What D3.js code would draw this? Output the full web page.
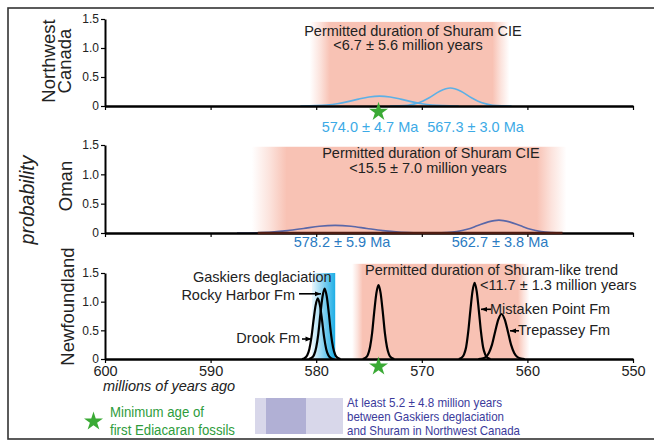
<!DOCTYPE html>
<html><head><meta charset="utf-8">
<script src="https://cdn.jsdelivr.net/npm/d3@7"></script>
<style>body{margin:0;background:#fff}svg{display:block;font-family:Arial,"Liberation Sans",Helvetica,sans-serif}</style>
</head><body><svg id="c" width="654" height="441"></svg>
<script>
// ---------- data ----------
const xTicks = [600, 590, 580, 570, 560, 550];
const yTicks = [0, 0.5, 1.0, 1.5];
const panelNames = [["Northwest", "Canada"], ["Oman"], ["Newfoundland"]];

// Northwest Canada ages (Ma) and probability curves
const nwLabels = ["574.0 ± 4.7 Ma", "567.3 ± 3.0 Ma"];
const nwCurveA = [[581.5,0],[580,0.007],[579,0.018],[578,0.04],[577,0.075],[576,0.119],[575,0.155],[574,0.17],[573,0.155],[572,0.119],[571,0.075],[570,0.04],[569,0.018],[568,0.007],[566.5,0]];
const nwCurveB = [[573,0],[572.3,0.003],[571.3,0.014],[570.3,0.054],[569.3,0.142],[568.3,0.255],[567.3,0.31],[566.3,0.255],[565.3,0.142],[564.3,0.054],[563.3,0.014],[562.3,0.003],[561.5,0]];
const nwBand = [580.6, 578.7, 563.3, 561.7];
const nwBandTop = 1.45;
const nwText = ["Permitted duration of Shuram CIE", "<6.7 ± 5.6 million years"];

// Oman
const omLabels = ["578.2 ± 5.9 Ma", "562.7 ± 3.8 Ma"];
const omCurveA = [[587.5,0],[585.7,0.005],[584.2,0.016],[582.7,0.041],[581.2,0.077],[579.7,0.115],[578.2,0.13],[576.7,0.115],[575.2,0.077],[573.7,0.041],[572.2,0.016],[570.7,0.005],[569,0]];
const omCurveB = [[568.7,0],[567.7,0.007],[566.7,0.024],[565.7,0.063],[564.7,0.127],[563.7,0.19],[562.7,0.22],[561.7,0.19],[560.7,0.127],[559.7,0.063],[558.7,0.024],[557.7,0.007],[556.7,0]];
const omBand = [586.1, 582.8, 559.1, 556.3];
const omBandTop = 1.47;
const omText = ["Permitted duration of Shuram CIE", "<15.5 ± 7.0 million years"];

// Newfoundland
const nfDrook = [[581.35,0],[581.1,0.015],[580.85,0.064],[580.65,0.17],[580.45,0.38],[580.25,0.68],[580.05,0.94],[579.85,1.06],[579.65,0.94],[579.45,0.68],[579.25,0.38],[579.05,0.17],[578.85,0.064],[578.6,0.015],[578.35,0]];
const nfRocky = [[580.7,0],[580.45,0.018],[580.2,0.074],[580.0,0.2],[579.8,0.44],[579.6,0.79],[579.4,1.09],[579.2,1.23],[579.0,1.09],[578.8,0.79],[578.6,0.44],[578.4,0.2],[578.2,0.074],[577.95,0.018],[577.7,0]];
const nfFossil = [[575.6,0],[575.35,0.019],[575.1,0.077],[574.9,0.21],[574.7,0.46],[574.5,0.83],[574.3,1.15],[574.1,1.29],[573.9,1.15],[573.7,0.83],[573.5,0.46],[573.3,0.21],[573.1,0.077],[572.85,0.019],[572.6,0]];
const nfMistaken = [[566.5,0],[566.25,0.02],[566.0,0.08],[565.8,0.21],[565.6,0.48],[565.4,0.85],[565.2,1.18],[565.0,1.33],[564.8,1.18],[564.6,0.85],[564.4,0.48],[564.2,0.21],[564.0,0.08],[563.75,0.02],[563.5,0]];
const nfTrepassey = [[564.65,0],[564.3,0.007],[563.95,0.035],[563.65,0.106],[563.35,0.25],[563.05,0.48],[562.75,0.69],[562.45,0.785],[562.15,0.69],[561.85,0.48],[561.55,0.25],[561.25,0.106],[560.95,0.035],[560.6,0.007],[560.25,0]];
const nfBand = [576.6, 575.6, 560.9, 559.8];
const nfBandTop = 1.66;
const gaskiersBand = [580.4, 578.2];
const gaskiersTop = 1.5;
const nfText = ["Permitted duration of Shuram-like trend", "<11.7 ± 1.3 million years"];
const nfNames = ["Gaskiers deglaciation", "Rocky Harbor Fm", "Drook Fm", "Mistaken Point Fm", "Trepassey Fm"];

const fossilAge = 574.1;
const xTitle = "millions of years ago";
const yTitle = "probability";
const legendStar = ["Minimum age of", "first Ediacaran fossils"];
const legendBox = ["At least 5.2 ± 4.8 million years", "between Gaskiers deglaciation", "and Shuram in Northwest Canada"];

// ---------- drawing ----------
const svg = d3.select("#c");
const defs = svg.append("defs");
const x = d3.scaleLinear().domain([600, 550]).range([105, 633]);
const yRanges = [[106, 19], [233, 145], [359, 273]];
const ys = yRanges.map(r => d3.scaleLinear().domain([0, 1.5]).range(r));
const FS = 14.5;

svg.append("rect").attr("x", 8).attr("y", 8).attr("width", 700).attr("height", 431)
  .attr("fill", "none").attr("stroke", "#333").attr("stroke-width", 1.6);

const PINK = "#f8c2b4";
function pinkBand(i, band, top) {
  const y = ys[i];
  const p = band.map(x);
  const w = p[3] - p[0];
  const g = defs.append("linearGradient").attr("id", "pink" + i)
    .attr("gradientUnits", "userSpaceOnUse").attr("x1", p[0]).attr("x2", p[3]).attr("y1", 0).attr("y2", 0);
  const o1 = (p[1] - p[0]) / w, o2 = (p[2] - p[0]) / w;
  [[0, 0], [o1 * 0.5, 0.45], [o1, 1], [o2, 1], [o2 + (1 - o2) * 0.5, 0.45], [1, 0]].forEach(([o, a]) =>
    g.append("stop").attr("offset", o).attr("stop-color", PINK).attr("stop-opacity", a));
  svg.append("rect").attr("x", p[0]).attr("width", w).attr("y", y(top)).attr("height", y(0) - y(top))
    .attr("fill", `url(#pink${i})`);
}
pinkBand(0, nwBand, nwBandTop);
pinkBand(1, omBand, omBandTop);
pinkBand(2, nfBand, nfBandTop);

// Gaskiers blue band
{
  const g = defs.append("linearGradient").attr("id", "blue").attr("x1", 0).attr("x2", 1).attr("y1", 0).attr("y2", 0);
  [[0, "#eaf7fd"], [0.45, "#8fd5f1"], [1, "#1daee6"]].forEach(([o, c]) => g.append("stop").attr("offset", o).attr("stop-color", c));
  const y = ys[2];
  svg.append("rect").attr("x", x(gaskiersBand[0])).attr("width", x(gaskiersBand[1]) - x(gaskiersBand[0]))
    .attr("y", y(gaskiersTop)).attr("height", y(0) - y(gaskiersTop)).attr("fill", "url(#blue)");
}

function curve(i, data, color, w) {
  const y = ys[i];
  const line = d3.line().x(d => x(d[0])).y(d => y(d[1])).curve(d3.curveMonotoneX);
  svg.append("path").datum(data).attr("d", line).attr("fill", "none").attr("stroke", color)
    .attr("stroke-width", w).attr("stroke-linejoin", "round");
}
curve(0, nwCurveA, "#5cb0e6", 1.6);
curve(0, nwCurveB, "#5cb0e6", 1.6);
curve(1, omCurveA, "#5a67a8", 1.6);
curve(1, omCurveB, "#5a67a8", 1.6);
[nfDrook, nfRocky, nfFossil, nfMistaken, nfTrepassey].forEach(c => curve(2, c, "#000", 2.2));

// axes
ys.forEach((y, i) => {
  const ya = svg.append("g").attr("transform", `translate(${x(600)},0)`)
    .call(d3.axisLeft(y).tickValues(yTicks).tickSize(4).tickPadding(2).tickSizeOuter(0)
      .tickFormat(d => d === 0 ? "0" : d3.format(".1f")(d)));
  ya.select(".domain").attr("stroke", "#000").attr("stroke-width", 2);
  ya.selectAll(".tick line").attr("stroke", "#000").attr("stroke-width", 1.2);
  ya.selectAll("text").attr("font-size", 12).attr("fill", "#222").attr("font-family", "Arial, 'Liberation Sans', sans-serif");

  const xa = svg.append("g").attr("transform", `translate(0,${y(0)})`)
    .call(d3.axisBottom(x).tickValues(xTicks).tickSize(4).tickSizeOuter(0).tickPadding(3)
      .tickFormat(i === 2 ? d3.format("d") : () => ""));
  xa.select(".domain").attr("stroke", "#000").attr("stroke-width", 2.6);
  xa.selectAll(".tick line").attr("stroke", "#000").attr("stroke-width", 1.2);
  xa.selectAll("text").attr("font-size", FS).attr("fill", "#222").attr("font-family", "Arial, 'Liberation Sans', sans-serif");
});
// tinted axis under the Oman band
svg.append("line").attr("x1", x(omBand[0]) + 6).attr("x2", x(omBand[3]) - 4)
  .attr("y1", ys[1](0)).attr("y2", ys[1](0)).attr("stroke", "#4e1c12").attr("stroke-width", 2.6);

function text(xp, yp, s, opt = {}) {
  const t = svg.append("text").attr("x", xp).attr("y", yp).text(s)
    .attr("font-size", opt.size || FS).attr("fill", opt.color || "#222")
    .attr("text-anchor", opt.anchor || "start");
  if (opt.italic) t.attr("font-style", "italic");
  if (opt.len) t.attr("textLength", opt.len).attr("lengthAdjust", "spacingAndGlyphs");
  if (opt.rot) t.attr("transform", `rotate(-90,${xp},${yp})`);
  return t;
}

// panel labels
text(55, 61, panelNames[0][0], {size: 18.5, anchor: "middle", rot: true});
text(71, 61, panelNames[0][1], {size: 18.5, anchor: "middle", rot: true});
text(72, 186, panelNames[1][0], {size: 18.5, anchor: "middle", rot: true});
text(74, 306.5, panelNames[2][0], {size: 18.5, anchor: "middle", rot: true});
text(34, 200, yTitle, {size: 19.5, anchor: "middle", rot: true, italic: true});

// panel 1 text
text(413, 35.5, nwText[0], {anchor: "middle"});
text(408, 49.8, nwText[1], {anchor: "middle"});
text(370, 132.3, nwLabels[0], {anchor: "middle", color: "#3caae6"});
text(475.5, 132.3, nwLabels[1], {anchor: "middle", color: "#3caae6"});

// panel 2 text
text(431, 158.3, omText[0], {anchor: "middle"});
text(428, 173.3, omText[1], {anchor: "middle"});
text(342, 246.7, omLabels[0], {anchor: "middle", color: "#2b7bc2"});
text(500, 246.7, omLabels[1], {anchor: "middle", color: "#2b7bc2"});

// panel 3 text
text(365, 275, nfText[0]);
text(480, 289.5, nfText[1]);
text(193, 281.7, nfNames[0]);
text(295, 299.5, nfNames[1], {anchor: "end"});
text(300, 343, nfNames[2], {anchor: "end"});
text(490, 313.5, nfNames[3]);
text(518, 334.8, nfNames[4]);

// arrows
defs.append("marker").attr("id", "ah").attr("viewBox", "0 -4 8 8").attr("refX", 8).attr("refY", 0)
  .attr("markerWidth", 7).attr("markerHeight", 6).attr("markerUnits", "userSpaceOnUse").attr("orient", "auto")
  .append("path").attr("d", "M0,-3.2L8,0L0,3.2Z").attr("fill", "#000");
[[299, 293.8, 321, 293.8], [302, 339, 311.5, 339], [491, 309.3, 481, 309.3], [519, 330.8, 510, 330.8]].forEach(a =>
  svg.append("line").attr("x1", a[0]).attr("y1", a[1]).attr("x2", a[2]).attr("y2", a[3])
    .attr("stroke", "#000").attr("stroke-width", 1.6).attr("marker-end", "url(#ah)"));

// x title
text(103, 390.5, xTitle, {italic: true});

// stars
const star = d3.symbol().type(d3.symbolStar).size(112);
const GREEN = "#3aaa35";
svg.append("path").attr("d", star).attr("fill", GREEN).attr("transform", `translate(${x(fossilAge)},${ys[0](0) + 5.8})`);
svg.append("path").attr("d", star).attr("fill", GREEN).attr("transform", `translate(${x(fossilAge)},${ys[2](0) + 7.5})`);
svg.append("path").attr("d", star).attr("fill", GREEN).attr("transform", `translate(93.5,421.5)`);

// legend
text(110, 416.7, legendStar[0], {size: 15.5, color: "#2e9c3c", len: 94});
text(110, 435, legendStar[1], {size: 15.5, color: "#2e9c3c", len: 125});
svg.append("rect").attr("x", 255).attr("y", 398).attr("width", 88).attr("height", 36).attr("fill", "#d8d7ea");
svg.append("rect").attr("x", 266).attr("y", 398).attr("width", 40).attr("height", 36).attr("fill", "#b1b0d5");
text(347, 406.7, legendBox[0], {size: 13, color: "#3b3b9c", len: 155});
text(347, 420.8, legendBox[1], {size: 13, color: "#3b3b9c", len: 157});
text(347, 435, legendBox[2], {size: 13, color: "#3b3b9c", len: 173});
</script></body></html>
